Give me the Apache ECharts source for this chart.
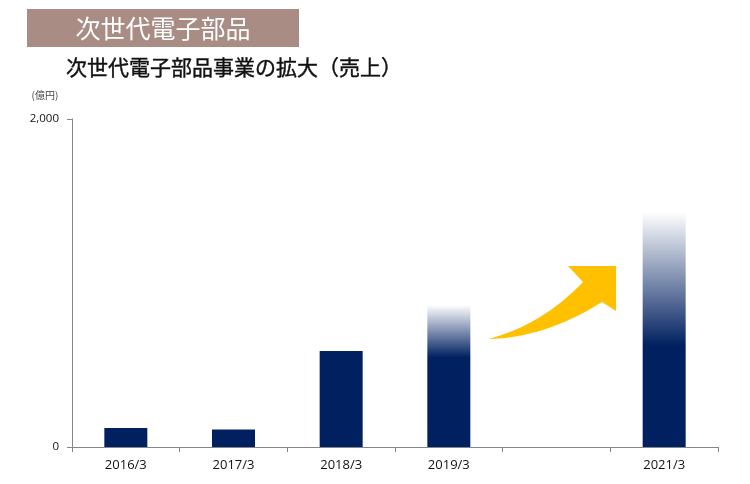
<!DOCTYPE html>
<html>
<head>
<meta charset="utf-8">
<script src="https://cdn.jsdelivr.net/npm/echarts@6/dist/echarts.min.js"></script>
<style>html,body{margin:0;padding:0;background:#fff}#main{width:750px;height:484px}</style>
</head>
<body>
<div id="main"></div>
<script>
var categories = ['2016/3', '2017/3', '2018/3', '2019/3', '', '2021/3'];
var sales = [116, 107, 585, 866, null, 1433];
// share of each bar (from the top) that fades out, 0 = solid
var fade = [0, 0, 0, 0.37, 0, 0.57];

var navy = '#002060';
var jpFont = '"Noto Sans CJK JP"';
var latinFont = '"Open Sans"';

function barColor(i) {
  if (!fade[i]) return navy;
  return new echarts.graphic.LinearGradient(0, 0, 0, 1, [
    {offset: 0, color: 'rgba(0,32,96,0)'},
    {offset: fade[i], color: navy},
    {offset: 1, color: navy}
  ]);
}

// points along a quadratic curve, for the curved edges of the arrow
function quad(p0, c, p1) {
  var pts = [];
  for (var k = 0; k <= 16; k++) {
    var t = k / 16, u = 1 - t;
    pts.push([u * u * p0[0] + 2 * u * t * c[0] + t * t * p1[0],
              u * u * p0[1] + 2 * u * t * c[1] + t * t * p1[1]]);
  }
  return pts;
}

var arrowPoints = quad([488, 339], [542, 325], [583, 282])
  .concat([[568, 266], [616, 266], [616, 311]])
  .concat(quad([602, 302], [545, 338], [488, 339]));

var chart = echarts.init(document.getElementById('main'), null, {renderer: 'canvas'});
var option = {
  backgroundColor: '#fff',
  animation: false,
  grid: {left: 72, right: 32, top: 119, bottom: 37},
  xAxis: {
    type: 'category',
    data: categories,
    axisLine: {lineStyle: {color: '#868686', width: 1}},
    axisTick: {show: true, alignWithLabel: false, length: 5, lineStyle: {color: '#868686'}},
    axisLabel: {color: '#111', fontFamily: latinFont, fontSize: 13, margin: 12, interval: 0}
  },
  yAxis: {
    type: 'value',
    min: 0,
    max: 2000,
    interval: 2000,
    axisLine: {show: true, lineStyle: {color: '#868686', width: 1}},
    axisTick: {show: true, length: 5, lineStyle: {color: '#868686'}},
    splitLine: {show: false},
    axisLabel: {
      color: '#111', fontFamily: latinFont, fontSize: 11.5, margin: 13,
      formatter: function (v) { return v === 0 ? '0' : v.toLocaleString('en-US'); }
    }
  },
  series: [{
    type: 'bar',
    barWidth: 43,
    silent: true,
    data: sales.map(function (v, i) {
      return {value: v, itemStyle: {color: barColor(i)}};
    })
  }],
  graphic: [
    {type: 'rect', shape: {x: 27, y: 9, width: 272, height: 38}, style: {fill: '#a98d85'}},
    {type: 'text', style: {x: 163, y: 28.5, text: '次世代電子部品', fill: '#fff', font: '25px ' + jpFont, textAlign: 'center', textVerticalAlign: 'middle'}},
    {type: 'text', style: {x: 66, y: 67, text: '次世代電子部品事業の拡大（売上）', fill: '#111', stroke: '#111', lineWidth: 0.4, font: '21px ' + jpFont, textAlign: 'left', textVerticalAlign: 'middle'}},
    {type: 'text', style: {x: 45, y: 95, text: '(億円)', fill: '#444', font: '10px ' + jpFont, textAlign: 'center', textVerticalAlign: 'middle'}},
    {type: 'polygon', shape: {points: arrowPoints}, style: {fill: '#ffc000'}}
  ]
};
chart.setOption(option);
</script>
</body>
</html>
